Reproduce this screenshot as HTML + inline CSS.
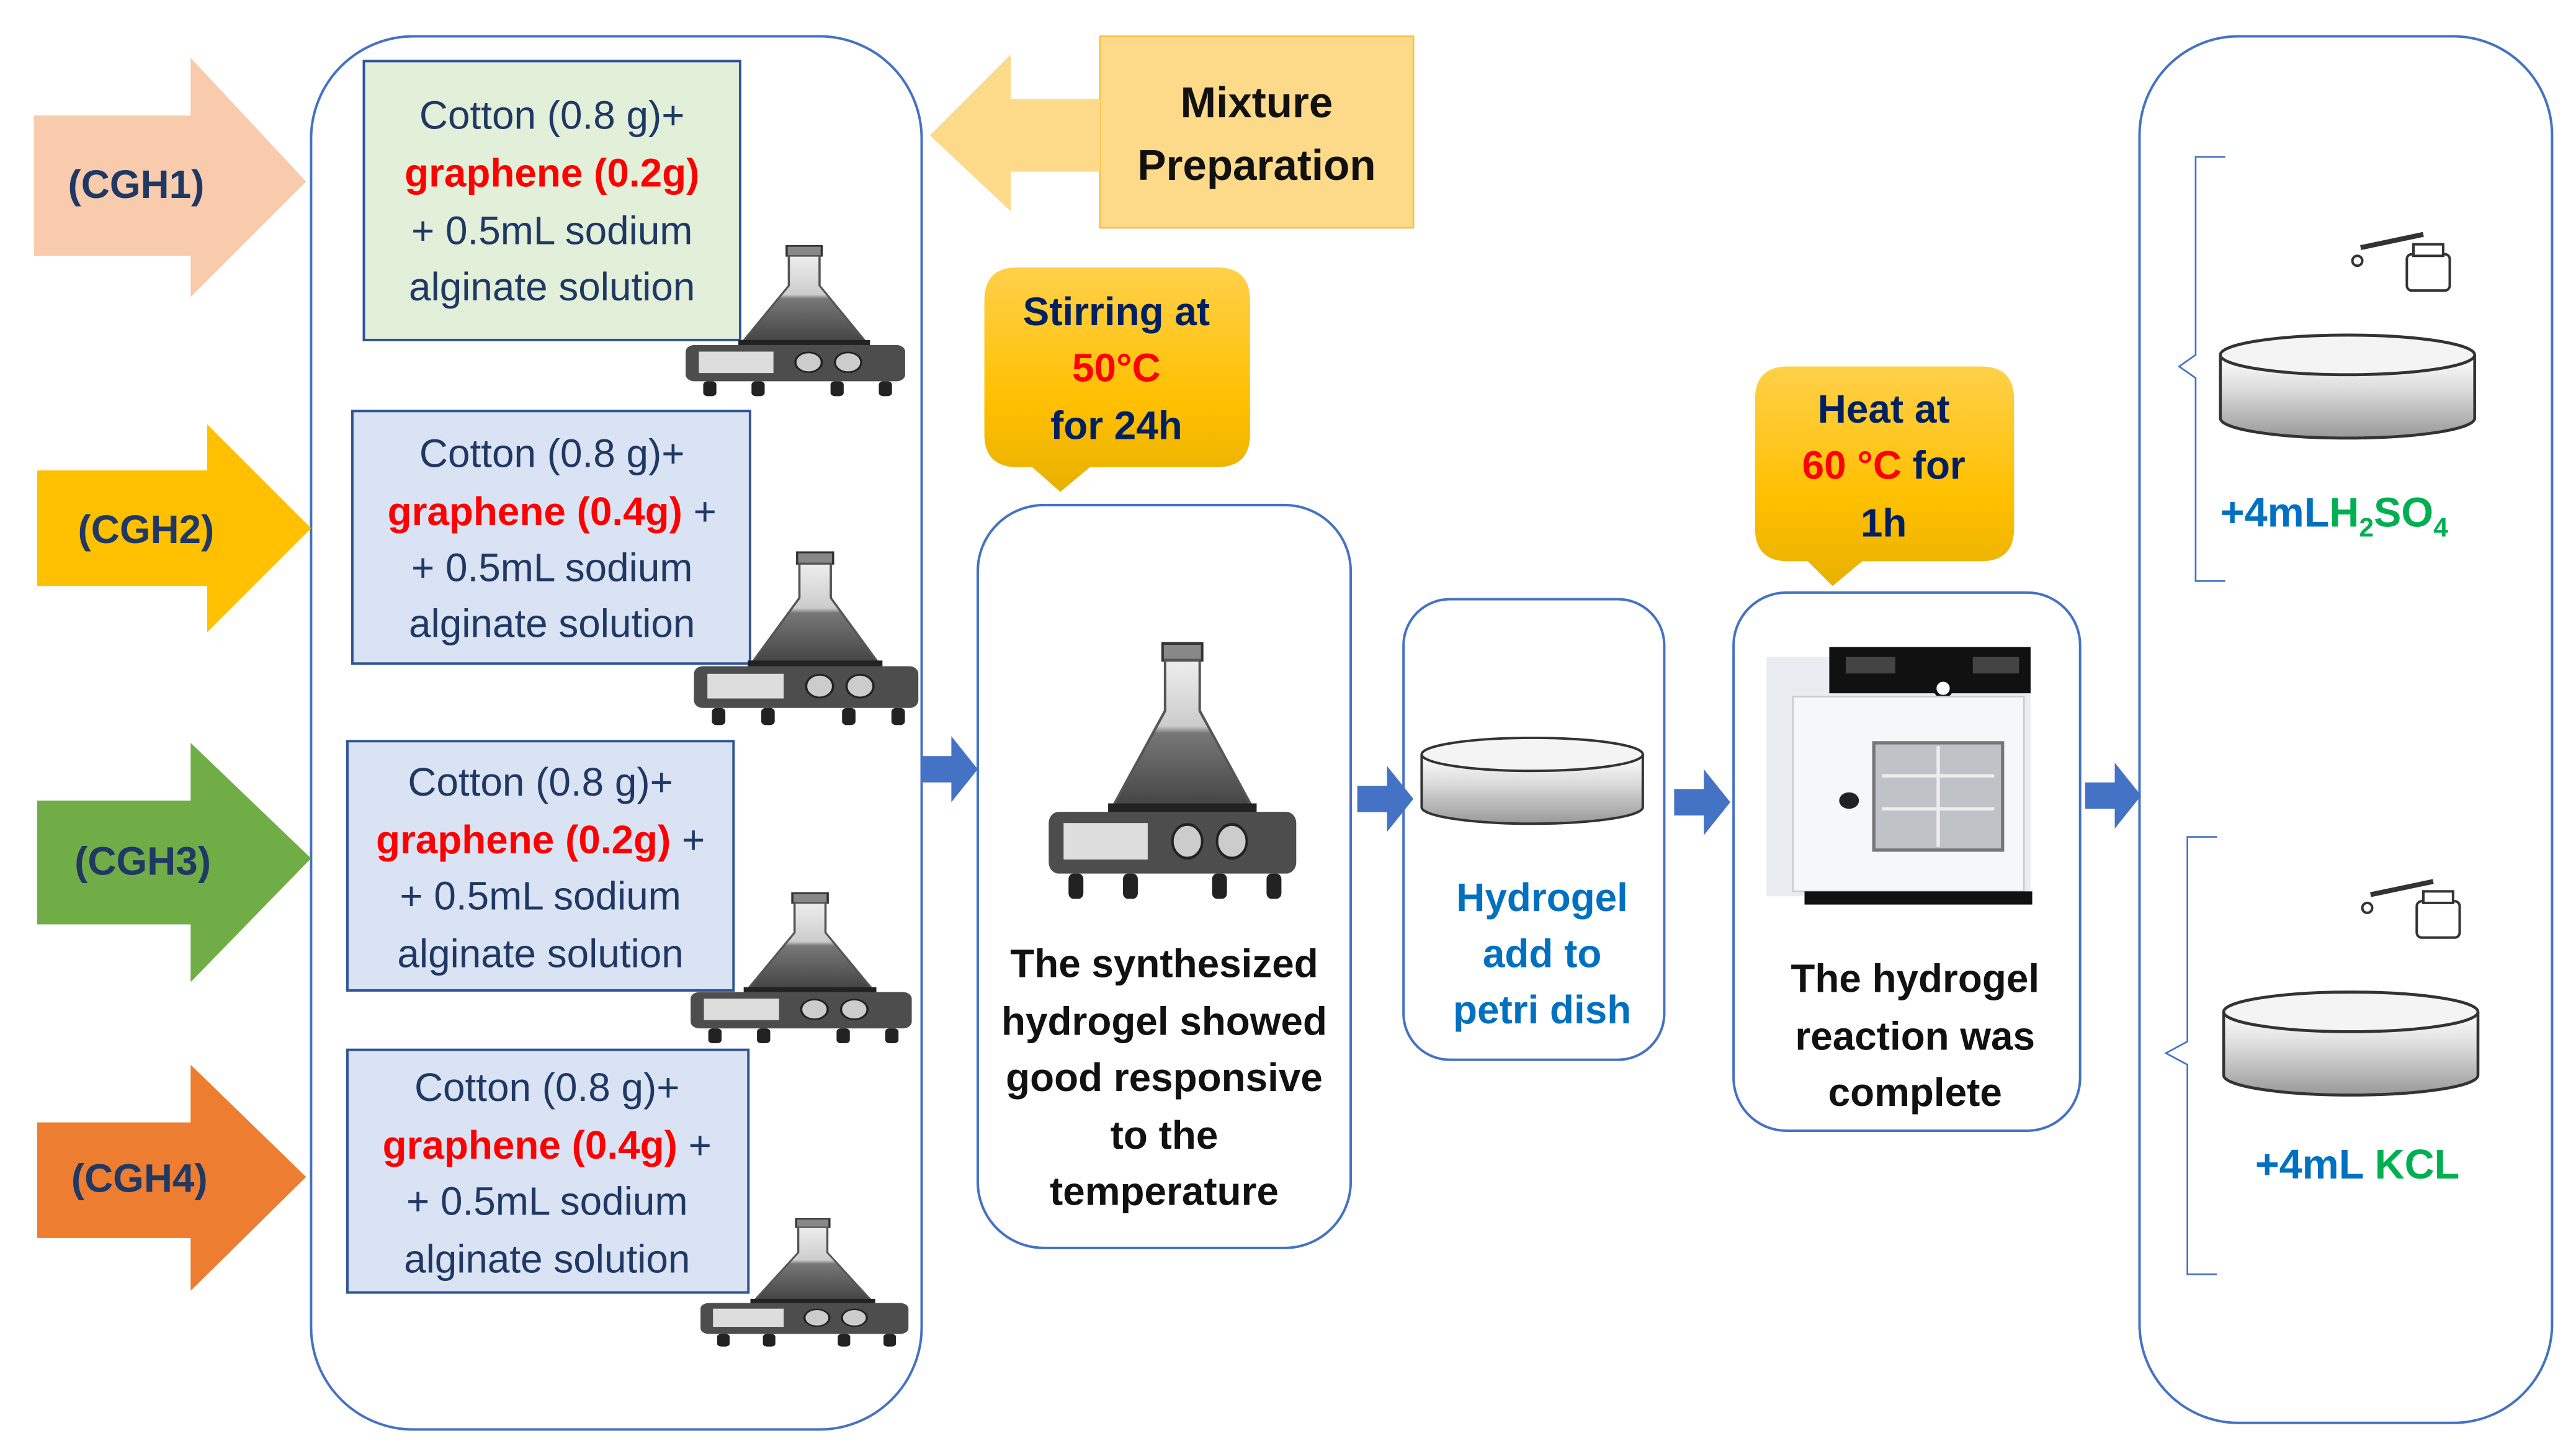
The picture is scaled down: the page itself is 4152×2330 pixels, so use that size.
<!DOCTYPE html>
<html><head><meta charset="utf-8"><style>html,body{margin:0;padding:0;background:#fff}svg{display:block}</style></head>
<body>
<svg width="4152" height="2330" viewBox="0 0 1560 876" xmlns="http://www.w3.org/2000/svg" font-family="'Liberation Sans', sans-serif">
<defs>
<linearGradient id="gold" x1="0" y1="0" x2="0" y2="1"><stop offset="0" stop-color="#ffd04a"/><stop offset="0.6" stop-color="#ffc000"/><stop offset="1" stop-color="#e8b000"/></linearGradient>
<linearGradient id="flask" x1="0" y1="0" x2="0" y2="1"><stop offset="0" stop-color="#eee"/><stop offset="0.45" stop-color="#ccc"/><stop offset="0.5" stop-color="#777"/><stop offset="1" stop-color="#444"/></linearGradient>
<linearGradient id="dish" x1="0" y1="0" x2="0" y2="1"><stop offset="0" stop-color="#fff"/><stop offset="0.4" stop-color="#ddd"/><stop offset="1" stop-color="#999"/></linearGradient>
<g id="stir">
<rect x="46" y="4" width="16" height="6" fill="#888" stroke="#333" stroke-width="1"/>
<path d="M47 10 L61 10 L61 28 L82 62 L26 62 L47 28 Z" fill="url(#flask)" stroke="#555" stroke-width="1"/>
<rect x="24" y="61" width="60" height="4" fill="#222"/>
<rect x="0" y="64" width="100" height="22" rx="4" fill="#4d4d4d"/>
<rect x="6" y="68" width="34" height="13" fill="#ddd"/>
<circle cx="56" cy="74.5" r="6" fill="#ccc" stroke="#222"/>
<circle cx="74" cy="74.5" r="6" fill="#ccc" stroke="#222"/>
<rect x="8" y="86" width="6" height="9" rx="2" fill="#222"/>
<rect x="30" y="86" width="6" height="9" rx="2" fill="#222"/>
<rect x="66" y="86" width="6" height="9" rx="2" fill="#222"/>
<rect x="88" y="86" width="6" height="9" rx="2" fill="#222"/>
</g>
<g id="petri">
<path d="M0 10 L0 42 A67 10 0 0 0 134 42 L134 10" fill="url(#dish)" stroke="#333" stroke-width="1.5"/>
<ellipse cx="67" cy="10" rx="67" ry="10" fill="#f4f4f4" stroke="#333" stroke-width="1.5"/>
</g>
<g id="dropper" fill="none" stroke="#333" stroke-width="1.5">
<rect x="34" y="16" width="26" height="22" rx="3" fill="#fff"/>
<rect x="38" y="10" width="18" height="7" fill="#fff"/>
<path d="M6 12 L44 4" stroke-width="3"/>
<circle cx="4" cy="20" r="3"/>
</g>
<g id="barr"><path d="M0 -8 L18 -8 L18 -20 L34 0 L18 20 L18 8 L0 8 Z" fill="#4472c4"/></g>
</defs>

<!-- left big box -->
<rect x="188" y="22" width="370" height="844" rx="62" fill="none" stroke="#4472c4" stroke-width="1.5"/>
<!-- CGH arrows -->
<path d="M20 70 L115 70 L115 35 L185 110 L115 180 L115 155 L20 155 Z" fill="#f8cbad"/>
<text x="82" y="120" font-size="24" font-weight="bold" fill="#1f3864" text-anchor="middle">(CGH1)</text>
<path d="M22 285 L125 285 L125 257 L188 320 L125 383 L125 355 L22 355 Z" fill="#ffc000"/>
<text x="88" y="329" font-size="24" font-weight="bold" fill="#1f3864" text-anchor="middle">(CGH2)</text>
<path d="M22 485 L115 485 L115 450 L188 520 L115 595 L115 560 L22 560 Z" fill="#70ad47"/>
<text x="86" y="530" font-size="24" font-weight="bold" fill="#1f3864" text-anchor="middle">(CGH3)</text>
<path d="M22 680 L115 680 L115 645 L185 713 L115 782 L115 750 L22 750 Z" fill="#ed7d31"/>
<text x="84" y="722" font-size="24" font-weight="bold" fill="#1f3864" text-anchor="middle">(CGH4)</text>

<!-- recipe boxes -->
<g font-size="24" fill="#1f3864" text-anchor="middle">
<rect x="220" y="37" width="228" height="169" fill="#e2f0d9" stroke="#2f5597" stroke-width="1.5"/>
<text x="334" y="78">Cotton (0.8 g)+</text>
<text x="334" y="113" fill="#ff0000" font-weight="bold">graphene (0.2g)</text>
<text x="334" y="148">+ 0.5mL sodium</text>
<text x="334" y="182">alginate solution</text>

<rect x="213" y="249" width="241" height="153" fill="#dae3f3" stroke="#2f5597" stroke-width="1.5"/>
<text x="334" y="283">Cotton (0.8 g)+</text>
<text x="334" y="318"><tspan fill="#ff0000" font-weight="bold">graphene (0.4g)</tspan> +</text>
<text x="334" y="352">+ 0.5mL sodium</text>
<text x="334" y="386">alginate solution</text>

<rect x="210" y="449" width="234" height="151" fill="#dae3f3" stroke="#2f5597" stroke-width="1.5"/>
<text x="327" y="482">Cotton (0.8 g)+</text>
<text x="327" y="517"><tspan fill="#ff0000" font-weight="bold">graphene (0.2g)</tspan> +</text>
<text x="327" y="551">+ 0.5mL sodium</text>
<text x="327" y="586">alginate solution</text>

<rect x="210" y="636" width="243" height="147" fill="#dae3f3" stroke="#2f5597" stroke-width="1.5"/>
<text x="331" y="667">Cotton (0.8 g)+</text>
<text x="331" y="702"><tspan fill="#ff0000" font-weight="bold">graphene (0.4g)</tspan> +</text>
<text x="331" y="736">+ 0.5mL sodium</text>
<text x="331" y="771">alginate solution</text>
</g>
<use href="#stir" transform="translate(415,145) scale(1.33,1)"/>
<use href="#stir" transform="translate(420,330) scale(1.36,1.15)"/>
<use href="#stir" transform="translate(418,537) scale(1.34,1)"/>
<use href="#stir" transform="translate(424,735) scale(1.26,0.85)"/>

<!-- Mixture preparation -->
<rect x="666" y="22" width="190" height="116" fill="#fdd98a" stroke="#f5c342" stroke-width="1"/>
<path d="M666 60 L612 60 L612 33 L563 82 L612 128 L612 104 L666 104 Z" fill="#fdd98a"/>
<text x="761" y="71" font-size="26" font-weight="bold" fill="#111" text-anchor="middle">Mixture</text>
<text x="761" y="109" font-size="26" font-weight="bold" fill="#111" text-anchor="middle">Preparation</text>

<!-- Stirring callout -->
<path d="M616 162 L737 162 Q757 162 757 182 L757 263 Q757 283 737 283 L660 283 L642 298 L625 283 L616 283 Q596 283 596 263 L596 182 Q596 162 616 162 Z" fill="url(#gold)"/>
<g font-size="24" font-weight="bold" fill="#002060" text-anchor="middle">
<text x="676" y="197">Stirring at</text>
<text x="676" y="231" fill="#ff0000">50°C</text>
<text x="676" y="266">for 24h</text>
</g>

<!-- middle box -->
<rect x="592" y="306" width="226" height="450" rx="40" fill="none" stroke="#4472c4" stroke-width="1.5"/>
<use href="#stir" transform="translate(635,383) scale(1.5,1.7)"/>
<g font-size="24" font-weight="bold" fill="#111" text-anchor="middle">
<text x="705" y="592">The synthesized</text>
<text x="705" y="627">hydrogel showed</text>
<text x="705" y="661">good responsive</text>
<text x="705" y="696">to the</text>
<text x="705" y="730">temperature</text>
</g>

<!-- blue arrows -->
<use href="#barr" transform="translate(558,466)"/>
<use href="#barr" transform="translate(822,484)"/>
<use href="#barr" transform="translate(1014,486)"/>
<use href="#barr" transform="translate(1263,482)"/>

<!-- petri box -->
<rect x="850" y="363" width="158" height="279" rx="28" fill="none" stroke="#4472c4" stroke-width="1.5"/>
<use href="#petri" transform="translate(861,447)"/>
<g font-size="24" font-weight="bold" fill="#0070c0" text-anchor="middle">
<text x="934" y="552">Hydrogel</text>
<text x="934" y="586">add to</text>
<text x="934" y="620">petri dish</text>
</g>

<!-- Heat callout -->
<path d="M1083 222 L1200 222 Q1220 222 1220 242 L1220 320 Q1220 340 1200 340 L1128 340 L1110 355 L1095 340 L1083 340 Q1063 340 1063 320 L1063 242 Q1063 222 1083 222 Z" fill="url(#gold)"/>
<g font-size="24" font-weight="bold" fill="#002060" text-anchor="middle">
<text x="1141" y="256">Heat at</text>
<text x="1141" y="290"><tspan fill="#ff0000">60 °C</tspan> for</text>
<text x="1141" y="325">1h</text>
</g>

<!-- oven box -->
<rect x="1050" y="359" width="210" height="326" rx="32" fill="none" stroke="#4472c4" stroke-width="1.5"/>
<rect x="1070" y="398" width="160" height="145" fill="#e9ecf1"/>
<rect x="1108" y="392" width="122" height="28" fill="#111"/>
<rect x="1118" y="398" width="30" height="10" fill="#444"/>
<rect x="1195" y="398" width="28" height="10" fill="#444"/>
<circle cx="1177" cy="417" r="5" fill="#fff" stroke="#111" stroke-width="2"/>
<rect x="1086" y="422" width="140" height="118" fill="#f6f7f9" stroke="#ccc" stroke-width="1"/>
<rect x="1135" y="450" width="78" height="65" fill="#bfc2c6" stroke="#777" stroke-width="2"/>
<path d="M1140 470 L1208 470 M1140 490 L1208 490 M1174 452 L1174 513" stroke="#eee" stroke-width="2"/>
<ellipse cx="1120" cy="485" rx="6" ry="5" fill="#222"/>
<rect x="1093" y="540" width="138" height="8" fill="#111"/>
<g font-size="24" font-weight="bold" fill="#111" text-anchor="middle">
<text x="1160" y="601">The hydrogel</text>
<text x="1160" y="636">reaction was</text>
<text x="1160" y="670">complete</text>
</g>

<!-- right box -->
<rect x="1296" y="22" width="250" height="840" rx="60" fill="none" stroke="#4472c4" stroke-width="1.5"/>
<path d="M1348 95 L1330 95 L1330 215 L1320 222 L1330 229 L1330 352 L1348 352" fill="none" stroke="#4472c4" stroke-width="1"/>
<path d="M1343 507 L1325 507 L1325 631 L1312 638 L1325 645 L1325 772 L1343 772" fill="none" stroke="#4472c4" stroke-width="1"/>
<use href="#petri" transform="translate(1345,203) scale(1.15,1.2)"/>
<use href="#dropper" transform="translate(1424,138)"/>
<use href="#petri" transform="translate(1347,601) scale(1.15,1.2)"/>
<use href="#dropper" transform="translate(1430,530)"/>
<text x="1345" y="319" font-size="25" font-weight="bold" fill="#0070c0">+4mL<tspan fill="#00b050">H<tspan font-size="16" dy="6">2</tspan><tspan dy="-6">SO</tspan><tspan font-size="16" dy="6">4</tspan></tspan></text>
<text x="1428" y="714" font-size="25" font-weight="bold" fill="#0070c0" text-anchor="middle">+4mL <tspan fill="#00b050">KCL</tspan></text>
</svg>
</body></html>
